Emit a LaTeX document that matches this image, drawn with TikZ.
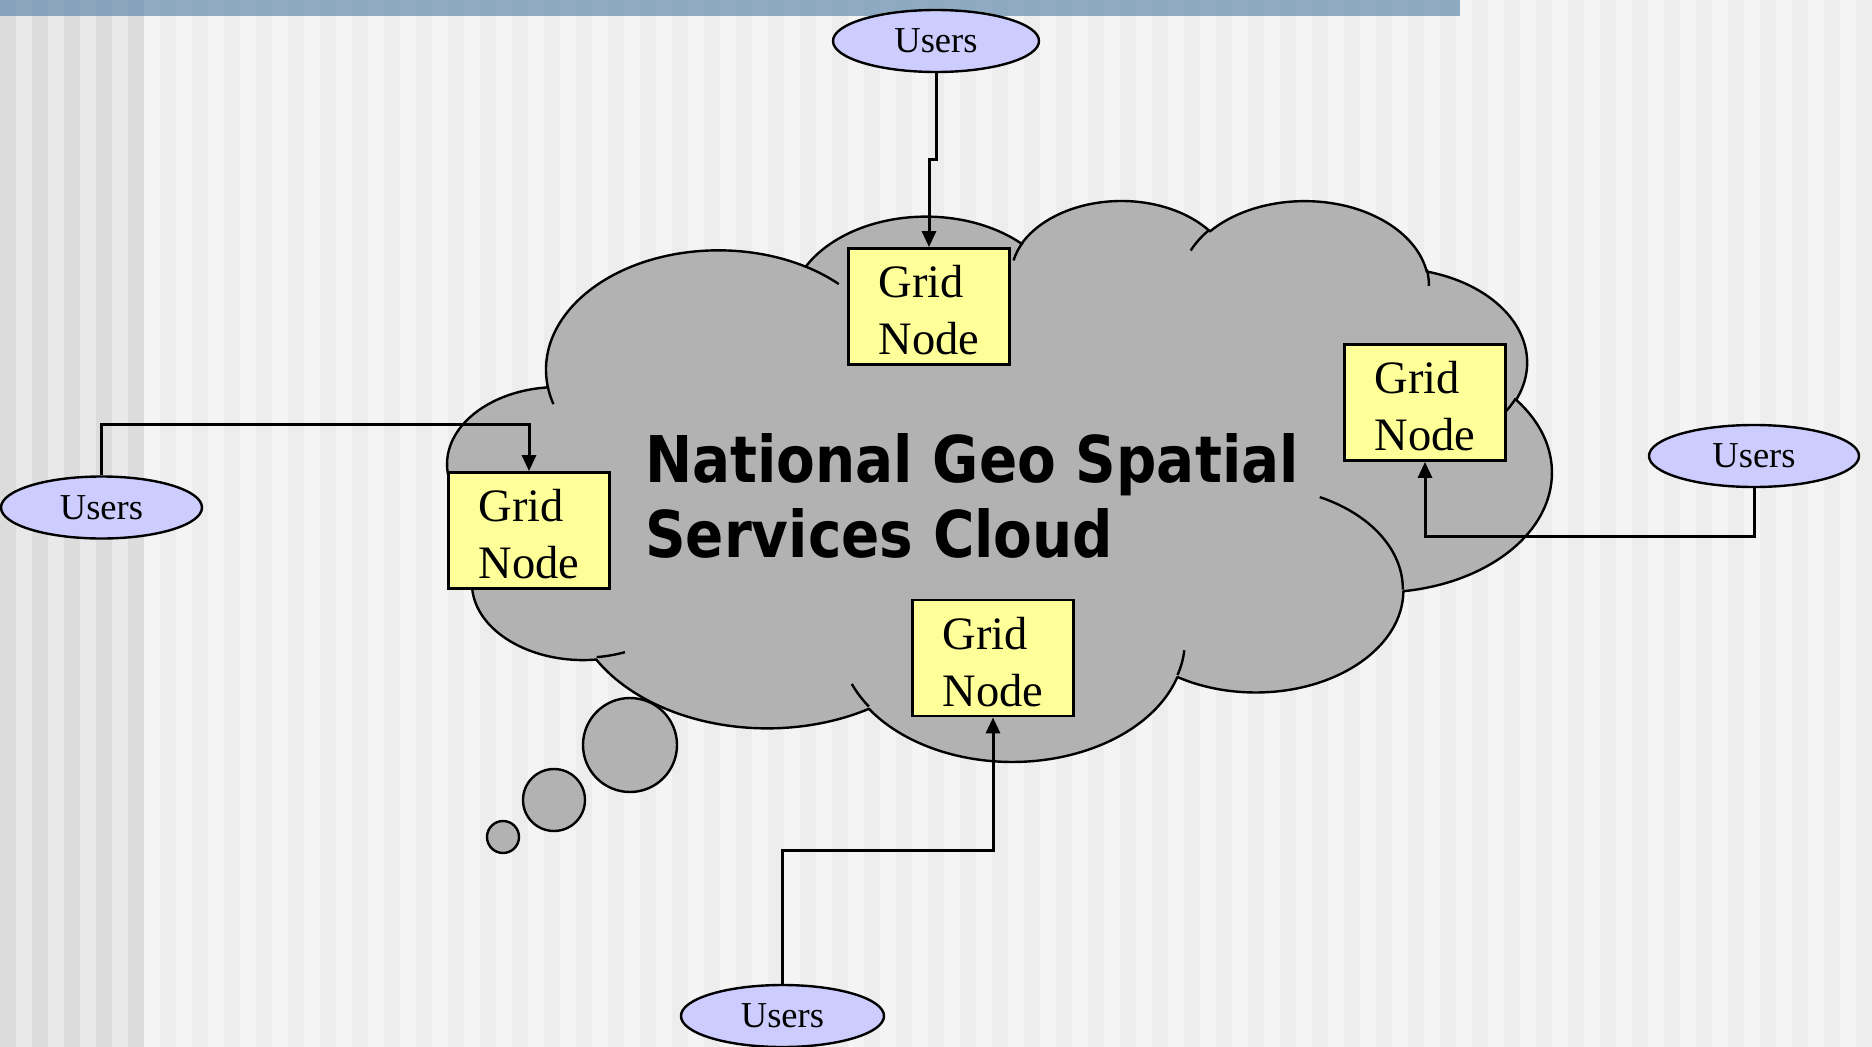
\documentclass[tikz,border=0pt]{standalone}
\usepackage{fontspec}
\setmainfont{Liberation Serif}
\newfontfamily\titlefont[FakeStretch=0.875]{DejaVu Sans}
\usetikzlibrary{shapes.geometric,arrows.meta}
\definecolor{cloudgray}{HTML}{B2B2B2}
\definecolor{gridyellow}{HTML}{FFFF99}
\definecolor{userblue}{HTML}{CCCCFF}
\definecolor{bgdarkA}{HTML}{DCDCDC}
\definecolor{bgdarkB}{HTML}{E9E9E9}
\definecolor{bglightA}{HTML}{EDEDED}
\definecolor{bglightB}{HTML}{F4F4F4}
\definecolor{barblue}{RGB}{78,122,165}
\makeatletter
\pgfmathdeclarefunction{ooang}{3}{%
  \begingroup
    \pgfmathparse{atan2((#2)*sin(#1),(#3)*cos(#1))-(#1)}%
    \pgfmathsetmacro\ood{\pgfmathresult-360*round(\pgfmathresult/360)}%
    \pgfmathparse{(#1)+(\ood)}%
    \pgfmath@smuggleone\pgfmathresult
  \endgroup}
\makeatother
\newcommand\ooarc[4]{arc[x radius=#1, y radius=#2, start angle={ooang(#3,#1,#2)}, end angle={ooang((#3)+(#4),#1,#2)}]}
\begin{document}
\begin{tikzpicture}[x=1pt,y=-1pt,
  gridbox/.style={draw=black, line width=2.8pt, fill=gridyellow, minimum width=161pt, minimum height=116pt, inner sep=0pt, align=left, font=\fontsize{46.5}{57}\selectfont},
  usersell/.style={ellipse, draw=black, line width=2.4pt, fill=userblue, minimum height=62pt, inner sep=0pt, font=\fontsize{36.5}{44}\selectfont},
  conn/.style={line width=3pt, -{Triangle[length=16pt,width=14pt]}},
  cloudline/.style={line width=2.4pt, line join=round},
  bubble/.style={draw=black, line width=2.4pt, fill=cloudgray}]
\useasboundingbox (0,0) rectangle (1872,1047);
% background stripes
\fill[bgdarkB] (0,0) rectangle (144,1047);
\foreach \k in {0,...,4} {\fill[bgdarkA] (32*\k,0) rectangle (32*\k+16,1047);}
\fill[bglightB] (144,0) rectangle (1872,1047);
\foreach \k in {5,...,58} {\fill[bglightA] (32*\k,0) rectangle (32*\k+16,1047);}
\fill[barblue, fill opacity=0.6] (0,0) rectangle (1460,16);
% cloud
\begin{scope}[shift={(447.97,199.16)}, x=2.5544pt, y=-1.2980pt]
\filldraw[cloudline, fill=cloudgray] (39.00,143.70)
  \ooarc{67.53}{91.90}{-190.4875}{123.7805}
  \ooarc{53.33}{72.67}{-144.1024}{89.9452}
  \ooarc{43.65}{59.45}{-145.8079}{99.7230}
  \ooarc{48.57}{65.95}{-130.9861}{117.2417}
  \ooarc{53.33}{72.73}{-78.7089}{109.0269}
  \ooarc{67.75}{92.20}{-46.2673}{130.2690}
  \ooarc{57.85}{78.67}{0.6250}{114.0333}
  \ooarc{67.52}{92.15}{22.4516}{115.1726}
  \ooarc{77.20}{105.43}{66.2426}{75.7110}
  \ooarc{43.60}{59.18}{-274.9421}{146.7356}
  \ooarc{43.45}{59.45}{-246.8285}{152.5189}
  -- cycle;
\draw[cloudline]
  (46.93,261.77) \ooarc{43.45}{59.45}{86.7420}{26.4295}
  (69.28,348.99) \ooarc{43.60}{59.18}{73.6105}{11.4475}
  (164.78,390.90) \ooarc{67.52}{92.15}{137.6242}{14.0811}
  (288.27,347.51) \ooarc{67.52}{92.15}{6.4533}{15.9984}
  (341.29,229.54) \ooarc{57.85}{78.67}{-70.2924}{70.9174}
  (417.98,153.54) \ooarc{53.33}{72.73}{30.3180}{27.7515}
  (383.24,54.26) \ooarc{48.57}{65.95}{-13.7443}{14.8589}
  (290.78,39.52) \ooarc{48.57}{65.95}{-149.1815}{18.1954}
  (221.41,47.20) \ooarc{43.65}{59.45}{-163.4943}{17.6864}
  (140.00,51.92) \ooarc{67.53}{91.90}{-66.7069}{12.3194}
  (41.27,157.89) \ooarc{67.53}{91.90}{157.6544}{11.8582};
\end{scope}
% thought bubbles
\draw[bubble] (630,745) circle[radius=47];
\draw[bubble] (554,800) circle[radius=31];
\draw[bubble] (503,837) circle[radius=16];
% grid nodes
\node[gridbox] (gT) at (929,306.5) {\strut Grid\\Node};
\node[gridbox] (gL) at (529,530.5) {\strut Grid\\Node};
\node[gridbox] (gR) at (1425,402.5) {\strut Grid\\Node};
\node[gridbox] (gB) at (993,658) {\strut Grid\\Node};
% users
\node[usersell, minimum width=206pt] (uT) at (936,41) {Users};
\node[usersell, minimum width=201pt] (uL) at (101.5,507.5) {Users};
\node[usersell, minimum width=210pt] (uR) at (1754,456) {Users};
\node[usersell, minimum width=203pt] (uB) at (782.5,1016) {Users};
% bends
\coordinate (bT) at (936,159);
\coordinate (bL) at (101.5,424);
\coordinate (bR) at (1754,536);
\coordinate (bB) at (782.5,850);
\draw[conn] (uT.south) -- (bT) -| (gT.north);
\draw[conn] (uL.north) -- (bL) -| (gL.north);
\draw[conn] (uR.south) -- (bR) -| (gR.south);
\draw[conn] (uB.north) -- (bB) -| (gB.south);
% title
\node[anchor=base west, inner sep=0pt, align=left, font=\titlefont\bfseries\fontsize{64.5}{75}\selectfont] (title) at (645,557) {National Geo Spatial\\Services Cloud};
\end{tikzpicture}
\end{document}
